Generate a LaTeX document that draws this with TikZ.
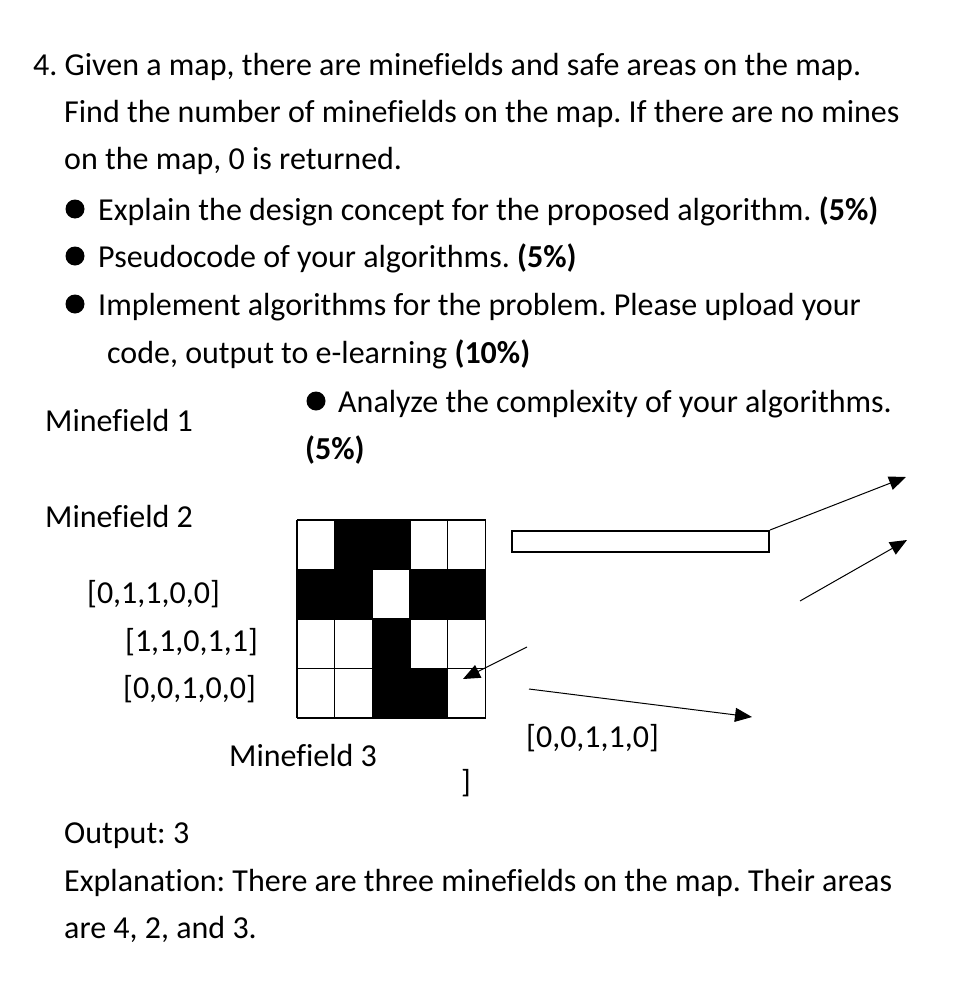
\documentclass[tikz,border=0pt]{standalone}
\usepackage{fontspec}
\setmainfont{Carlito}[Ligatures={NoCommon}]
\usetikzlibrary{arrows.meta}
\frenchspacing
\tikzset{
  txt/.style={anchor=base west, inner sep=0pt, font=\fontsize{32}{38}\selectfont},
  bul/.style={circle, fill=black, inner sep=0pt, minimum size=19pt},
  conn/.style={line width=1pt, -{Triangle[length=17pt,width=14pt]}},
  cellline/.style={line width=1.3pt},
  boxrect/.style={draw, line width=2pt, inner sep=0pt, minimum width=257pt, minimum height=21pt, anchor=north west}
}
\begin{document}
\begin{tikzpicture}[x=1pt,y=-1pt]
\useasboundingbox (0,0) rectangle (968,990);
\fill[white] (0,0) rectangle (968,990);
% main text
\node[txt] (l1) at (33,75) {4. Given a map, there are minefields and safe areas on the map.};
\node[txt] (l2) at (64,122) {Find the number of minefields on the map. If there are no mines};
\node[txt] (l3) at (64,169) {on the map, 0 is returned.};
\node[bul] (b1) at (75,209) {};
\node[txt] (t1) at (98,220) {Explain the design concept for the proposed algorithm. \textbf{(5\%)}};
\node[bul] (b2) at (75,256) {};
\node[txt] (t2) at (98,267) {Pseudocode of your algorithms. \textbf{(5\%)}};
\node[bul] (b3) at (75,304) {};
\node[txt] (t3) at (98,315) {Implement algorithms for the problem. Please upload your};
\node[txt] (t3b) at (107,363) {code, output to e-learning \textbf{(10\%)}};
\node[bul] (b4) at (316,401) {};
\node[txt] (t4) at (338,412) {Analyze the complexity of your algorithms.};
\node[txt] (t4b) at (305,459) {\textbf{(5\%)}};
\node[txt] (m1) at (45,431) {Minefield 1};
\node[txt] (m2) at (45,527) {Minefield 2};
\node[txt] (r1) at (87,603) {[0,1,1,0,0]};
\node[txt] (r2) at (125,651) {[1,1,0,1,1]};
\node[txt] (r3) at (123,698) {[0,0,1,0,0]};
\node[txt] (r4) at (526,747) {[0,0,1,1,0]};
\node[txt] (m3) at (229,766) {Minefield 3};
\node[txt] (br) at (461,792) {]};
\node[txt] (out) at (64,843) {Output: 3};
\node[txt] (ex1) at (64,891) {Explanation: There are three minefields on the map. Their areas};
\node[txt] (ex2) at (64,938) {are 4, 2, and 3.};
% grid
\def\cw{37.7}
\def\ch{49.5}
\begin{scope}[shift={(297,520)}]
  \foreach \r/\c in {0/1,0/2,1/0,1/1,1/3,1/4,2/2,3/2,3/3}{
    \fill[black] (\c*\cw,\r*\ch) rectangle ({(\c+1)*\cw},{(\r+1)*\ch});
  }
  \foreach \i in {0,...,5}{ \draw[cellline] (\i*\cw,0) -- (\i*\cw,4*\ch); }
  \foreach \j in {0,...,4}{ \draw[cellline] (0,\j*\ch) -- (5*\cw,\j*\ch); }
\end{scope}
% rectangle
\node[boxrect] (bar) at (511,530) {};
% arrows
\coordinate (a1e) at (906,477);
\coordinate (a2s) at (800,601);
\coordinate (a2e) at (907,540);
\coordinate (a3s) at (527,647);
\coordinate (a3e) at (463,679);
\coordinate (a4s) at (529,689);
\coordinate (a4e) at (752,717);
\draw[conn] (bar.north east) -- (a1e);
\draw[conn] (a2s) -- (a2e);
\draw[conn] (a3s) -- (a3e);
\draw[conn] (a4s) -- (a4e);
\end{tikzpicture}
\end{document}
